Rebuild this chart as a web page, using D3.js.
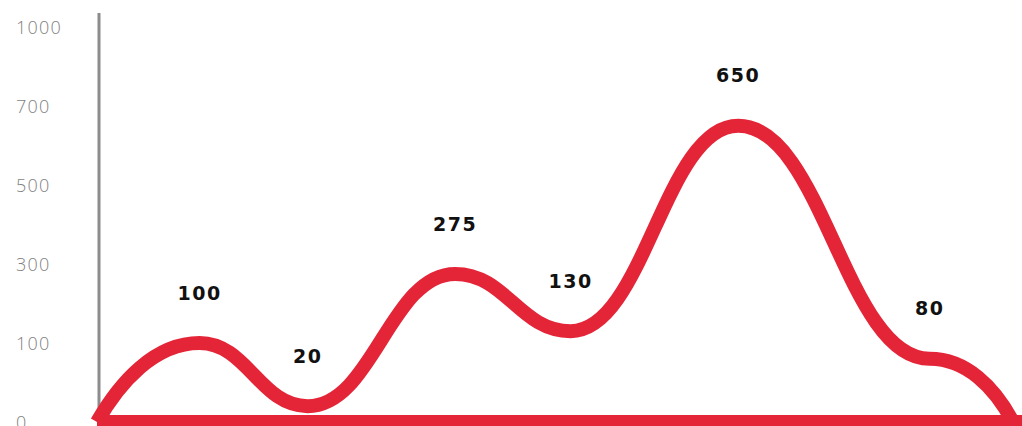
<!DOCTYPE html>
<html><head><meta charset="utf-8">
<script src="https://cdn.jsdelivr.net/npm/d3@7"></script>
<style>
html,body{margin:0;padding:0;background:#fff;overflow:hidden}
</style></head><body>
<svg id="chart" width="1022" height="426"></svg>
<script>
// ---- data ----
const yTicks = [0, 100, 300, 500, 700, 1000];
const yTickLabels = ["0", "100", "300", "500", "700", "1000"];
const values = [0, 100, 20, 275, 130, 650, 80, 0];
const positions = [0, 11.2, 23, 39.1, 51.7, 70, 90.9, 100];
const pointLabels = ["", "100", "20", "275", "130", "650", "80", ""];

// ---- layout ----
const W = 1022, H = 426;
const plotLeft = 97, plotRight = 1013, plotBottom = 422, plotTop = 27;
const red = "#e42538";
const svg = d3.select("#chart");

const step = (plotBottom - plotTop) / (yTicks.length - 1);
const y = d3.scaleLinear().domain(yTicks).range(yTicks.map((d, i) => plotBottom - i * step));
const x = d3.scaleLinear().domain([0, 100]).range([plotLeft, plotRight]);

// smooth curve: flat tangents at interior points, steeper at both ends
function curveSmoothBump(context) {
  let p = [];
  const k = 0.44;
  return {
    areaStart() {}, areaEnd() {},
    lineStart() { p = []; },
    point(px, py) { p.push([+px, +py]); },
    lineEnd() {
      const n = p.length;
      if (!n) return;
      context.moveTo(p[0][0], p[0][1]);
      for (let i = 1; i < n; i++) {
        const [x0, y0] = p[i - 1], [x1, y1] = p[i];
        const h = x1 - x0;
        let c1 = [x0 + h * k, y0], c2 = [x1 - h * k, y1];
        if (i === 1) c1 = [x0 + h * 0.22, y0 + (y1 - y0) * 0.5];
        if (i === n - 1) c2 = [x1 - h * 0.22, y1 - (y1 - y0) * 0.55];
        context.bezierCurveTo(c1[0], c1[1], c2[0], c2[1], x1, y1);
      }
    }
  };
}

// y axis
const axis = d3.axisLeft(y).tickValues(yTicks).tickSize(0)
  .tickFormat((d, i) => yTickLabels[i]);
const gA = svg.append("g").call(axis);
gA.select(".domain").remove();
gA.selectAll("text")
  .attr("x", 16).attr("dy", "0.35em")
  .attr("text-anchor", "start")
  .style("font-family", "'Open Sans', sans-serif")
  .style("font-weight", 300)
  .style("font-size", "18px")
  .style("letter-spacing", "1.2px")
  .style("fill", "#7f7f7f");

svg.append("line")
  .attr("x1", 99).attr("x2", 99)
  .attr("y1", 13).attr("y2", H)
  .attr("stroke", "#8c8c8c").attr("stroke-width", 3);

// baseline bar
svg.append("line")
  .attr("x1", x(0)).attr("x2", W)
  .attr("y1", y(0)).attr("y2", y(0))
  .attr("stroke", red).attr("stroke-width", 14);

// curve
const pts = values.map((v, i) => ({ v, p: positions[i], l: pointLabels[i] }));
const line = d3.line().x(d => x(d.p)).y(d => y(d.v)).curve(curveSmoothBump);
svg.append("path")
  .datum(pts)
  .attr("d", line)
  .attr("fill", "none")
  .attr("stroke", red)
  .attr("stroke-width", 14)
  .attr("stroke-linecap", "butt");

// labels
svg.selectAll("text.lbl")
  .data(pts.filter(d => d.l))
  .join("text")
  .attr("class", "lbl")
  .attr("x", d => x(d.p))
  .attr("y", d => y(d.v) - 50)
  .attr("dy", "0.35em")
  .attr("text-anchor", "middle")
  .style("font-family", "'DejaVu Sans', sans-serif")
  .style("font-weight", 700)
  .style("font-size", "19px")
  .style("letter-spacing", "1.5px")
  .style("fill", "#111")
  .text(d => d.l);
</script>
</body></html>
